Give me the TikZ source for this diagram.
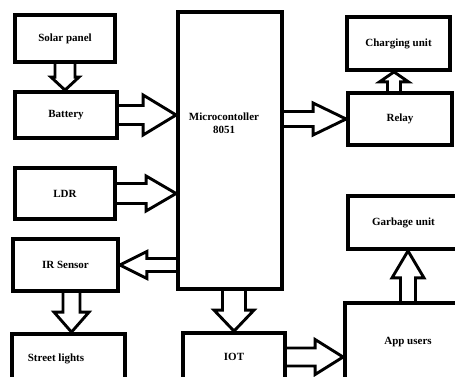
\documentclass[tikz,border=0pt]{standalone}
\usepackage{fontspec}
\setmainfont{Liberation Serif}
\usetikzlibrary{calc}
\tikzset{blk/.style={draw, line width=3.8pt, inner sep=0pt, align=center,
        font=\bfseries\fontsize{11}{13}\selectfont},
    txt/.style={inner sep=0pt, align=center, font=\bfseries\fontsize{11}{13}\selectfont},
    fatarr/.style={draw, line width=2.9pt},
    }
% #1 from, #2 to, #3 shaft half width, #4 head half width, #5 head length
\newcommand{\fatarrow}[5]{%
  \coordinate (fa-c) at ($(#2)!#5!(#1)$);
  \draw[fatarr] ($(#1)!#3!90:(#2)$) -- ($(fa-c)!#3!90:(#2)$) -- ($(fa-c)!#4!90:(#2)$)
    -- (#2) -- ($(fa-c)!#4!-90:(#2)$) -- ($(fa-c)!#3!-90:(#2)$) -- ($(#1)!#3!-90:(#2)$);
}

\begin{document}
\begin{tikzpicture}[x=1pt,y=-1pt]
	\useasboundingbox (0,0) rectangle (455,376);
	\clip (0,0) rectangle (455,376);

	% left column
	\node[blk, minimum width=100pt, minimum height=47pt] (solar) at (65,38.5) {Solar panel};
	\node[blk, minimum width=102pt, minimum height=46pt] (battery) at (66,115) {Battery};
	\node[blk, minimum width=100pt, minimum height=51pt] (ldr) at (65,193.5) {LDR};
	\node[blk, minimum width=105pt, minimum height=52pt] (ir) at (65.5,265) {IR Sensor};
	\node[blk, minimum width=113pt, minimum height=50pt] (street) at (68.5,359) {};
	\node[txt] (street-t) at (56,359) {Street lights};

	% middle
	\node[blk, minimum width=104pt, minimum height=277pt] (micro) at (230,150.5) {};
	\node[txt] (micro-t) at (224,123) {Microcontoller\\8051};
	\node[blk, minimum width=102pt, minimum height=48pt] (iot) at (234,357) {IOT};

	% right column
	\node[blk, minimum width=103pt, minimum height=53pt] (charging) at (398.5,43.5) {Charging unit};
	\node[blk, minimum width=104pt, minimum height=52pt] (relay) at (400,119) {Relay};
	\node[blk, minimum width=111pt, minimum height=53pt] (garbage) at (403.5,222.5) {Garbage unit};
	\node[blk, minimum width=126pt, minimum height=78pt] (app) at (408,342) {App users};

	% connectors
	\fatarrow{solar.south}{solar.south |- battery.north}{10pt}{14pt}{13pt}
	\fatarrow{battery.east}{battery.east -| micro.west}{9.5pt}{20pt}{33pt}
	\fatarrow{ldr.east}{ldr.east -| micro.west}{10pt}{17.5pt}{30pt}
	\fatarrow{ir.east -| micro.west}{ir.east}{6.5pt}{13.5pt}{27pt}
	\fatarrow{[xshift=6pt]ir.south}{[xshift=6pt]ir.south |- street.north}{8.5pt}{17.5pt}{20pt}
	\fatarrow{iot.north |- micro.south}{iot.north}{11.5pt}{20pt}{21pt}
	\fatarrow{iot.east}{iot.east -| app.west}{9pt}{17.5pt}{28pt}
	\fatarrow{app.north}{app.north |- garbage.south}{7.5pt}{16pt}{27pt}
	\fatarrow{[xshift=-6pt]relay.north}{[xshift=-6pt]relay.north |- charging.south}{6.5pt}{14.5pt}{10pt}
	\fatarrow{micro.east |- relay.west}{relay.west}{7.5pt}{16pt}{33pt}
\end{tikzpicture}
\end{document}
